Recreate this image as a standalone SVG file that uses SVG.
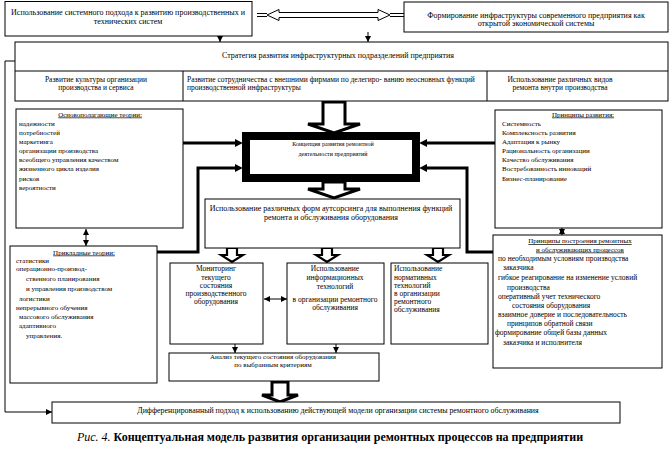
<svg xmlns="http://www.w3.org/2000/svg" width="670" height="450" viewBox="0 0 670 450">
<style>
.box{fill:#fff;stroke:#000;stroke-width:1}
.t{font-family:"Liberation Serif","Times New Roman",serif;font-size:7px;fill:#000}
.c{text-anchor:middle}
.f8{font-size:8px}
.f75{font-size:7.5px}
.f6{font-size:6px}
.u{text-decoration:underline}
.thin{fill:none;stroke:#000;stroke-width:1}
.thick{fill:none;stroke:#000;stroke-width:3}
.hol{fill:#fff;stroke:#000;stroke-width:3;stroke-linejoin:miter}
.hol2{fill:#fff;stroke:#000;stroke-width:2.2;stroke-linejoin:miter}
.hol1{fill:#fff;stroke:#000;stroke-width:1}
.cap{font-family:"Liberation Serif","Times New Roman",serif;font-size:12px;fill:#000}
</style>
<defs>
<marker id="a" viewBox="0 0 10 10" refX="10" refY="5" markerWidth="6" markerHeight="6" markerUnits="userSpaceOnUse" orient="auto-start-reverse"><path d="M0,0L10,5L0,10z"/></marker>
<marker id="at" viewBox="0 0 10 10" refX="4" refY="5" markerWidth="8" markerHeight="8" markerUnits="userSpaceOnUse" orient="auto"><path d="M0,0L10,5L0,10z"/></marker>
</defs>
<rect width="670" height="450" fill="#fff"/>

<g id="connectors">
<polygon class="hol1" points="267,15 279,9.5 279,12.5 378,12.5 378,9.5 390,15 378,20.5 378,17.5 279,17.5 279,20.5"/>
<path class="thin" d="M257,13.5H267M257,16.5H267M390,13.5H404M390,16.5H404"/>
<line class="thin" x1="220" y1="36" x2="220" y2="42" marker-end="url(#a)"/>
<line class="thin" x1="368" y1="32" x2="368" y2="42" marker-end="url(#a)"/>
<polyline class="thin" points="15,61 5,61 5,412 52,412" marker-end="url(#a)"/>
<polygon class="hol" points="323,102 345,102 345,124 360,124 334,133 308,124 323,124"/>
<polygon class="hol" points="323,182 345,182 345,189 360,189 334,198 308,189 323,189"/>
<line class="thick" x1="183" y1="143" x2="238" y2="143" marker-end="url(#at)"/>
<polyline class="thick" points="157,252 198,252 198,168 238,168" marker-end="url(#at)"/>
<line class="thick" x1="495" y1="143" x2="424" y2="143" marker-end="url(#at)"/>
<polyline class="thick" points="493,252 467,252 467,168 424,168" marker-end="url(#at)"/>
<line class="thin" x1="86" y1="229" x2="86" y2="246" marker-start="url(#a)" marker-end="url(#a)"/>
<line class="thin" x1="562" y1="228" x2="562" y2="235" marker-start="url(#a)" marker-end="url(#a)"/>
<polygon class="hol2" points="227,248 237,248 237,255 243,255 232,262 221,255 227,255"/>
<polygon class="hol2" points="322,248 332,248 332,255 338,255 327,262 316,255 322,255"/>
<polygon class="hol2" points="433,248 443,248 443,255 449,255 438,262 427,255 433,255"/>
<line class="thin" x1="264" y1="299" x2="287" y2="299" marker-start="url(#a)" marker-end="url(#a)"/>
<line class="thin" x1="235" y1="344" x2="235" y2="353" marker-end="url(#a)"/>
<line class="thin" x1="336" y1="344" x2="336" y2="353" marker-end="url(#a)"/>
<polygon class="hol" points="272,382 288,382 288,395 298,395 280,402 262,395 272,395"/>
</g>

<g id="n-system-approach">
<rect class="box" x="5" y="1.5" width="247" height="34.5"/>
<text class="t f8 c" x="128" y="14.5">Использование системного подхода к развитию производственных и</text>
<text class="t f8 c" x="128" y="23.5">технических систем</text>
</g>

<g id="n-infrastructure">
<rect class="box" x="404" y="2" width="264" height="30"/>
<text class="t f8 c" x="536" y="17.5">Формирование инфраструктуры современного предприятия как</text>
<text class="t f8 c" x="536" y="25.5">открытой экономической системы</text>
</g>

<g id="n-strategy">
<rect class="box" x="15" y="42" width="653" height="59"/>
<line class="thin" x1="15" y1="71" x2="668" y2="71"/>
<line class="thin" x1="183" y1="71" x2="183" y2="101"/>
<line class="thin" x1="487" y1="71" x2="487" y2="101"/>
<text class="t f8 c" x="338" y="57.5">Стратегия развития инфраструктурных подразделений предприятия</text>
<text class="t f75 c" x="96" y="81.5">Развитие культуры организации</text>
<text class="t f75 c" x="96" y="89.5">производства и сервиса</text>
<text class="t f75" x="187" y="81.5">Развитие сотрудничества с внешними фирмами по делегиро- ванию неосновных функций</text>
<text class="t f75" x="187" y="89.5">производственной инфраструктуры</text>
<text class="t f75 c" x="560" y="81.5">Использование различных видов</text>
<text class="t f75 c" x="560" y="89.5">ремонта внутри производства</text>
</g>

<g id="n-basic-theories">
<rect class="box" x="16" y="109" width="167" height="119"/>
<text class="t c u" x="100" y="116.5">Основополагающие теории:</text>
<text class="t" x="19" y="125.5">надежности</text>
<text class="t" x="19" y="134.5">потребностей</text>
<text class="t" x="19" y="144">маркетинга</text>
<text class="t" x="19" y="153">организации производства</text>
<text class="t" x="19" y="162">всеобщего управления качеством</text>
<text class="t" x="19" y="171">жизненного цикла изделия</text>
<text class="t" x="19" y="180.5">рисков</text>
<text class="t" x="19" y="190">вероятности</text>
</g>

<g id="n-concept">
<rect x="246" y="136" width="170" height="42" fill="#fff" stroke="#000" stroke-width="8"/>
<text class="t f6 c" x="333" y="145.5">Концепция развития ремонтной</text>
<text class="t f6 c" x="333" y="155.5">деятельности предприятий</text>
</g>

<g id="n-principles">
<rect class="box" x="495" y="110" width="167" height="118"/>
<text class="t c u" x="583" y="116.5">Принципы развития:</text>
<text class="t" x="502" y="125.5">Системность</text>
<text class="t" x="502" y="134.5">Комплексность развития</text>
<text class="t" x="502" y="144">Адаптация к рынку</text>
<text class="t" x="502" y="153">Рациональность организации</text>
<text class="t" x="502" y="162">Качество обслуживания</text>
<text class="t" x="502" y="171">Востребованность инноваций</text>
<text class="t" x="502" y="180.5">Бизнес-планирование</text>
</g>

<g id="n-outsourcing">
<rect class="box" x="205" y="199" width="255" height="49"/>
<text class="t f8 c" x="331" y="210.5">Использование различных форм аутсорсинга для выполнения функций</text>
<text class="t f8 c" x="331" y="219.5">ремонта и обслуживания оборудования</text>
</g>

<g id="n-applied-theories">
<rect class="box" x="10" y="246" width="147" height="137"/>
<text class="t c u" x="84" y="254.5">Прикладные теории:</text>
<text class="t" x="16" y="262.5">статистики</text>
<text class="t" x="16" y="271">операционно-производ-</text>
<text class="t" x="26" y="280.5">ственного планирования</text>
<text class="t" x="26" y="290.5">и управления производством</text>
<text class="t" x="19" y="300.5">логистики</text>
<text class="t" x="16" y="309.5">непрерывного обучения</text>
<text class="t" x="19" y="318.5">массового обслуживания</text>
<text class="t" x="19" y="327.5">адаптивного</text>
<text class="t" x="26" y="337.5">управления.</text>
</g>

<g id="n-process-principles">
<rect class="box" x="493" y="235" width="169" height="133"/>
<text class="t c u" x="580" y="243">Принципы построения ремонтных</text>
<text class="t c u" x="580" y="251.5">и обслуживающих процессов</text>
<text class="t f75" x="498" y="260.5">по необходимым условиям производства</text>
<text class="t f75" x="503" y="269.5">заказчика</text>
<text class="t f75" x="498" y="279.5">гибкое реагирование на изменение условий</text>
<text class="t f75" x="507" y="289.5">производства</text>
<text class="t f75" x="498" y="298.5">оперативный учет технического</text>
<text class="t f75" x="512" y="307.5">состояния оборудования</text>
<text class="t f75" x="498" y="316.5">взаимное доверие и последовательность</text>
<text class="t f75" x="507" y="325.5">принципов обратной связи</text>
<text class="t f75" x="495" y="334.5">формирование общей базы данных</text>
<text class="t f75" x="503" y="344.5">заказчика и исполнителя</text>
</g>

<g id="n-monitoring">
<rect class="box" x="170" y="263" width="93" height="81"/>
<text class="t f75 c" x="216" y="270.5">Мониторинг</text>
<text class="t f75 c" x="216" y="279.5">текущего</text>
<text class="t f75 c" x="216" y="287.5">состояния</text>
<text class="t f75 c" x="216" y="295.5">производственного</text>
<text class="t f75 c" x="216" y="304">оборудования</text>
</g>

<g id="n-info-tech">
<rect class="box" x="287" y="263" width="97" height="81"/>
<text class="t f75 c" x="335" y="270.5">Использование</text>
<text class="t f75 c" x="335" y="279.5">информационных</text>
<text class="t f75 c" x="335" y="288.5">технологий</text>
<text class="t f75 c" x="335" y="301.5">в организации ремонтного</text>
<text class="t f75 c" x="335" y="309.5">обслуживания</text>
</g>

<g id="n-norm-tech">
<rect class="box" x="391" y="263" width="97" height="81"/>
<text class="t f75" x="394" y="270.5">Использование</text>
<text class="t f75" x="394" y="280">нормативных</text>
<text class="t f75" x="394" y="288">технологий</text>
<text class="t f75" x="394" y="296">в организации</text>
<text class="t f75" x="394" y="304">ремонтного</text>
<text class="t f75" x="394" y="311.5">обслуживания</text>
</g>

<g id="n-analysis">
<rect class="box" x="169" y="353" width="210" height="28"/>
<text class="t c" x="273" y="358.5">Анализ текущего состояния оборудования</text>
<text class="t c" x="273" y="366.5">по выбранным критериям</text>
</g>

<g id="n-differentiated">
<rect class="box" x="52" y="402" width="568" height="21"/>
<text class="t c" x="338" y="413" style="font-size:7.9px">Дифференцированный подход к использованию действующей модели организации системы ремонтного обслуживания</text>
</g>

<g id="caption">
<text class="cap c" x="330" y="441"><tspan font-style="italic">Рис. 4.</tspan> <tspan font-weight="bold">Концептуальная модель развития организации ремонтных процессов на предприятии</tspan></text>
</g>
</svg>
